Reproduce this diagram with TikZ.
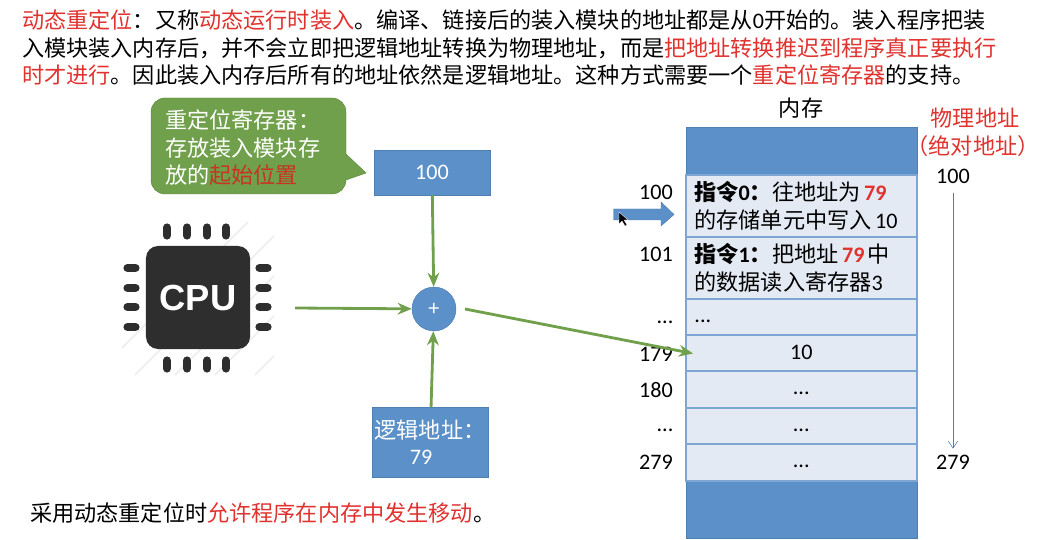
\documentclass[tikz,border=0pt]{standalone}
\usepackage{fontspec}
\setmainfont{Noto Sans CJK SC}
\newfontfamily\latf{Carlito}
\newfontfamily\cpuf{Liberation Sans}
\usetikzlibrary{arrows.meta}

\definecolor{azul}{HTML}{5B90C8}
\definecolor{azulborde}{HTML}{4F7FB0}
\definecolor{celda}{HTML}{E4EAF4}
\definecolor{celdaborde}{HTML}{7FA6D2}
\definecolor{verde}{HTML}{70A04B}
\definecolor{rojo}{HTML}{E0322E}
\definecolor{rojonota}{HTML}{C8341F}
\definecolor{chip}{HTML}{2E2E2E}

\newcommand{\rj}[1]{\textcolor{rojo}{#1}}
\newcommand{\lat}[1]{{\latf #1}}
\newcommand{\tam}{\fontsize{18.9}{23.4}\selectfont}

\tikzset{
    linea/.style={anchor=west, inner sep=0pt, font=\tam},
    caja/.style={draw=azulborde, fill=azul, text=white, font=\tam, align=center, inner sep=0pt},
    fila/.style={draw=celdaborde, line width=1.3pt, fill=celda, anchor=north west, font=\tam,
        inner ysep=0pt, inner xsep=0.26cm, text width=6.41cm, align=left, minimum height=#1},
    dir/.style={inner sep=0pt, font=\tam\latf},
    pata/.style={chip, line width=7pt, line cap=round},
    flecha/.style={verde, line width=2.4pt, -{Stealth[length=12pt,width=10pt]}}
}

\begin{document}
\begin{tikzpicture}[x=0.03cm, y=-0.03cm]
    \useasboundingbox (0,0) rectangle (1059,540);

    % -----------------------------------------------------
    % 1) Texto superior
    % -----------------------------------------------------
    \node[linea] (linea1) at (22,20) {\rj{动态重定位}：又称\rj{动态运行时装入}。编译、链接后的装入模块的地址都是从\lat{0}开始的。装入程序把装};
    \node[linea] (linea2) at (22,48) {入模块装入内存后，并不会立即把逻辑地址转换为物理地址，而是\rj{把地址转换推迟到程序真正要执行}};
    \node[linea] (linea3) at (22,75) {\rj{时才进行}。因此装入内存后所有的地址依然是逻辑地址。这种方式需要一个\rj{重定位寄存器}的支持。};
    \node[linea] (linea4) at (30,513) {采用动态重定位时\rj{允许程序在内存中发生移动}。};

    % -----------------------------------------------------
    % 2) Llamada verde
    % -----------------------------------------------------
    \draw[fill=verde, draw=verde!85!black] (165,98) -- (332,98) arc[start angle=90, end angle=0, radius=0.42cm]
        -- (346,154) -- (366,173) -- (346,180) arc[start angle=0, end angle=-90, radius=0.42cm]
        -- (165,194) arc[start angle=-90, end angle=-180, radius=0.42cm]
        -- (151,112) arc[start angle=180, end angle=90, radius=0.42cm] -- cycle;
    \node[linea, text=white, align=left] (nota) at (165,148) {重定位寄存器：\\存放装入模块存\\放的\textcolor{rojonota}{起始位置}};

    % -----------------------------------------------------
    % 3) CPU
    % -----------------------------------------------------
    \begin{scope}
        \clip (122,222) rectangle (274,375);
        \foreach \d in {345,385,425,465,505,545,585,625}
            \draw[black!7, line width=1.5pt] (\d-250,375) -- (\d-97,222);
    \end{scope}
    \foreach \x in {167,187,207,226} {
        \draw[pata] (\x,227.5) -- (\x,235.5);
        \draw[pata] (\x,360.5) -- (\x,368.5);
    }
    \foreach \y in {268,288,307,327} {
        \draw[pata] (127.5,\y) -- (135.5,\y);
        \draw[pata] (259.5,\y) -- (267.5,\y);
    }
    \node[fill=chip, rounded corners=0.36cm, minimum width=3.12cm, minimum height=3.09cm, inner sep=0pt,
        text=white, font=\fontsize{31}{31}\selectfont\cpuf\bfseries] (cpu) at (198,297.5) {CPU};
    \coordinate (cpusalida) at (295,308);

    % -----------------------------------------------------
    % 4) Registro, sumador y direccion logica
    % -----------------------------------------------------
    \node[caja, minimum width=3.48cm, minimum height=1.35cm] (base) at (432,172.5) {\lat{100}};
    \node[caja, circle, minimum size=1.32cm] (suma) at (434,309) {\lat{+}};
    \node[caja, minimum width=3.48cm, minimum height=2.1cm] (logica) at (430,442) {逻辑地址：\\[-1pt]\lat{79}\hspace*{0.54cm}};
    \coordinate (sumasalida) at (465,309);

    % -----------------------------------------------------
    % 5) Memoria: fondo y filas
    % -----------------------------------------------------
    \draw[draw=azulborde, fill=azul] (686,127) rectangle (917,538);
    \node[linea, anchor=center] (memoria) at (801,108) {内存};

    \node[fila=1.86cm] (fila1) at (685,174) {\textbf{指令\lat{0}：}往地址为\hspace{3pt}\rj{\lat{\textbf{79}}}\\的存储单元中写入\hspace{3pt}\lat{10}};
    \node[fila=1.86cm] (fila2) at (685,236) {\textbf{指令\lat{1}：}把地址\hspace{3pt}\rj{\lat{\textbf{79}}}\hspace{3pt}中\\的数据读入寄存器\lat{3}};
    \node[fila=1.08cm] (fila3) at (685,298) {\strut\lat{...}};
    \node[fila=1.08cm, align=center] (fila4) at (685,334) {\raisebox{-1.5pt}{\lat{10}}};
    \node[fila=1.1cm, align=center] (fila5) at (685,370) {\strut\lat{...}};
    \node[fila=1.1cm, align=center] (fila6) at (685,407) {\strut\lat{...}};
    \node[fila=1.11cm, align=center] (fila7) at (685,443) {\strut\lat{...}};
    \coordinate (destino) at (693,353.5);

    % -----------------------------------------------------
    % 6) Direcciones a la izquierda y a la derecha
    % -----------------------------------------------------
    \node[dir] (izq1) at (656,192) {100};
    \node[dir] (izq2) at (656,254) {101};
    \node[dir] (izq3) at (665,322) {...};
    \node[dir] (izq4) at (656,354) {179};
    \node[dir] (izq5) at (656,390) {180};
    \node[dir] (izq6) at (665,430) {...};
    \node[dir] (izq7) at (656,462) {279};

    \node[linea, anchor=center, text=rojo] (fisica) at (975,118) {物理地址};
    \node[linea, anchor=center, text=rojo] (absoluta) at (973,146) {（绝对地址）};
    \node[dir] (der1) at (953,176) {100};
    \node[dir] (der2) at (953,462) {279};
    \draw[azulborde, line width=0.5pt, -{Straight Barb[length=6pt,width=8pt]}, shorten >=5pt, shorten <=8pt] (der1) -- (der2);

    % -----------------------------------------------------
    % 7) Flecha de bloque y cursor
    % -----------------------------------------------------
    \draw[fill=azul, draw=azulborde] (613.5,209) -- (661,209) -- (661,202) -- (674,214.5) -- (661,226) -- (661,220) -- (613.5,220) -- cycle;
    \draw[fill=black, draw=white, line width=0.3pt] (619,212) -- (619,224) -- (622,221) -- (625,226) -- (627,225) -- (624,220) -- (628,220) -- cycle;

    % -----------------------------------------------------
    % 8) Conexiones
    % -----------------------------------------------------
    \draw[flecha] (base) -- (suma);
    \draw[flecha] (logica) -- (suma);
    \draw[flecha] (cpusalida) -- (suma);
    \draw[flecha] (sumasalida) -- (destino);
\end{tikzpicture}
\end{document}
